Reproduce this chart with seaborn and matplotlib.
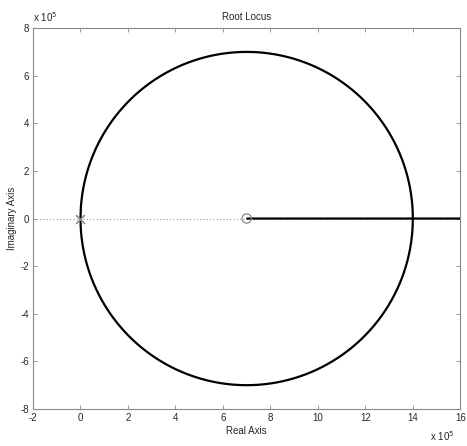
import numpy as np
import pandas as pd
import matplotlib
matplotlib.use("Agg")
import matplotlib.pyplot as plt
import seaborn as sns

# Open-loop poles and zero (units of 1e5)
poles = [0.0, 0.0]
zeros = [7.0]
x_ticks = [-2, 0, 2, 4, 6, 8, 10, 12, 14, 16]
y_ticks = [-8, -6, -4, -2, 0, 2, 4, 6, 8]
title = "Root Locus"
xlabel = "Real Axis"
ylabel = "Imaginary Axis"

sns.set_theme(style="white")
plt.rcParams['font.family'] = ['Liberation Sans', 'DejaVu Sans']

# Root locus of s^2 - k (s - z) = 0 for k >= 0
z = zeros[0]
k_vals = np.concatenate([np.linspace(0, 4 * z, 2000), np.linspace(4 * z, 2000, 8000)])
upper, lower = [], []
for k in k_vals:
    r = np.roots([1.0, -k, k * z])
    r = sorted(r, key=lambda c: (c.imag, c.real))
    lower.append(r[0]); upper.append(r[1])
upper = np.array(upper); lower = np.array(lower)
circ_mask = k_vals <= 4 * z
circle_df = pd.DataFrame({
    "re": np.concatenate([upper[circ_mask].real, lower[circ_mask].real[::-1]]),
    "im": np.concatenate([upper[circ_mask].imag, lower[circ_mask].imag[::-1]]),
})
real_mask = ~circ_mask
br_re = np.concatenate([lower[real_mask].real, upper[real_mask].real])
branch_df = pd.DataFrame({"re": br_re, "im": np.zeros_like(br_re)})
branch_df = branch_df[(branch_df.re >= z) & (branch_df.re <= 16.5)].sort_values("re")

fig = plt.figure(figsize=(4.67, 4.46), dpi=100)
ax = fig.add_axes([0.0707, 0.083, 0.915, 0.854])

ax.axhline(0, color="#999999", lw=0.8, ls=(0, (1, 2)), zorder=1)
sns.lineplot(data=circle_df, x="re", y="im", sort=False, estimator=None, ax=ax,
             color="black", lw=1.6, zorder=3)
sns.lineplot(data=branch_df, x="re", y="im", sort=False, estimator=None, ax=ax,
             color="black", lw=1.6, zorder=3)
sns.scatterplot(x=zeros, y=[0.0] * len(zeros), ax=ax, marker="o", s=45,
                facecolor="none", edgecolor="#888888", linewidth=0.9, zorder=4)
sns.scatterplot(x=poles, y=[0.0] * len(poles), ax=ax, marker="x", s=40,
                color="#888888", linewidth=0.9, zorder=4)

ax.set_xlim(-2, 16)
ax.set_ylim(-8, 8)
ax.set_xticks(x_ticks)
ax.set_yticks(y_ticks)
ax.set_xticklabels([str(t) for t in x_ticks], fontsize=7)
ax.set_yticklabels([str(t) for t in y_ticks], fontsize=7)
ax.tick_params(direction="in", length=3, width=0.6, color="#888888", pad=3,
               top=True, right=True, bottom=True, left=True)
for sp in ax.spines.values():
    sp.set_linestyle((0, (1, 1)))
    sp.set_color("#888888")
    sp.set_linewidth(0.8)

ax.set_title(title, fontsize=7, pad=6)
ax.set_xlabel(xlabel, fontsize=7, labelpad=2)
ax.set_ylabel(ylabel, fontsize=7, labelpad=2)
ax.text(0.0, 1.01, r"x 10$^{5}$", transform=ax.transAxes, fontsize=7, ha="left", va="bottom")
ax.text(0.985, -0.07, r"x 10$^{5}$", transform=ax.transAxes, fontsize=7, ha="right", va="center")

fig.savefig("out.png", dpi=100)
